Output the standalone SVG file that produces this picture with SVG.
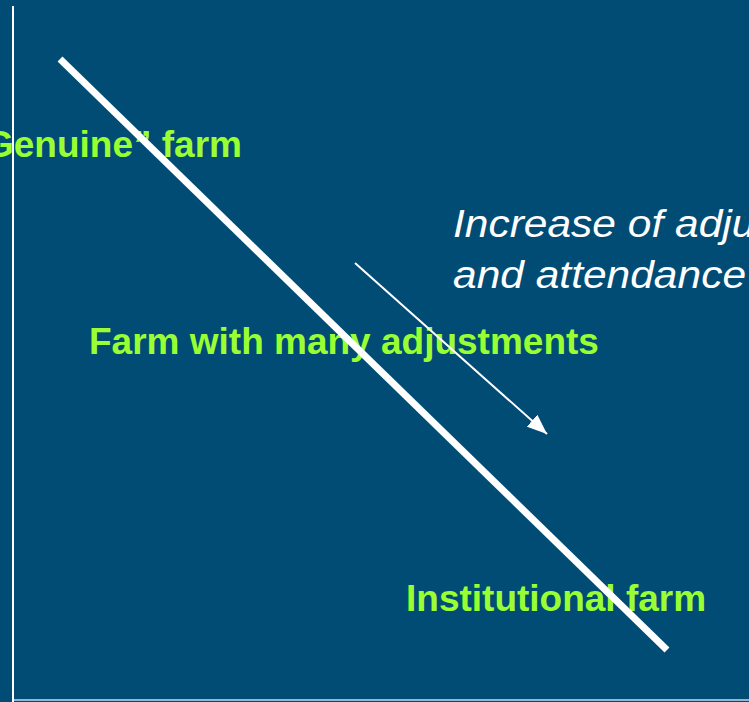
<svg xmlns="http://www.w3.org/2000/svg" width="749" height="702" viewBox="0 0 749 702">
<defs>
<style>
.lbl{font-family:"Liberation Sans",Arial,sans-serif;font-weight:bold;font-size:37px;fill:#99FF33}
.note{font-family:"Liberation Sans",Arial,sans-serif;font-style:italic;font-size:39px;fill:#FFFFFF}
.axis{stroke:#FFFFFF;stroke-width:2;fill:none}
</style>
<marker id="ah2" viewBox="0 0 20 16" refX="20" refY="8" markerWidth="20" markerHeight="16" orient="auto" markerUnits="userSpaceOnUse">
<path d="M0,0 L20,8 L0,16 Z" fill="#FFFFFF"/>
</marker>
</defs>
<rect x="0" y="0" width="749" height="702" fill="#004C75"/>
<line x1="13" y1="700" x2="749" y2="700" stroke="#8FB9D3" stroke-width="2"/>
<line class="axis" x1="13" y1="6" x2="13" y2="702"/>
<g id="genuine-farm"><text class="lbl" x="242" y="157" text-anchor="end">Genuine” farm</text></g>
<g id="many-adjustments"><text class="lbl" x="89" y="354">Farm with many adjustments</text></g>
<g id="institutional-farm"><text class="lbl" x="406" y="611">Institutional farm</text></g>
<g id="increase-note" transform="translate(453,0) scale(1.09,1)"><text class="note" x="0" y="237">Increase of adjustments</text><text class="note" x="0" y="288">and attendance</text></g>
<g id="connectors">
<line x1="60" y1="59" x2="667" y2="650" stroke="#FFFFFF" stroke-width="7"/>
<line x1="355" y1="263" x2="547" y2="434" stroke="#FFFFFF" stroke-width="2" marker-end="url(#ah2)"/>
</g>
</svg>
